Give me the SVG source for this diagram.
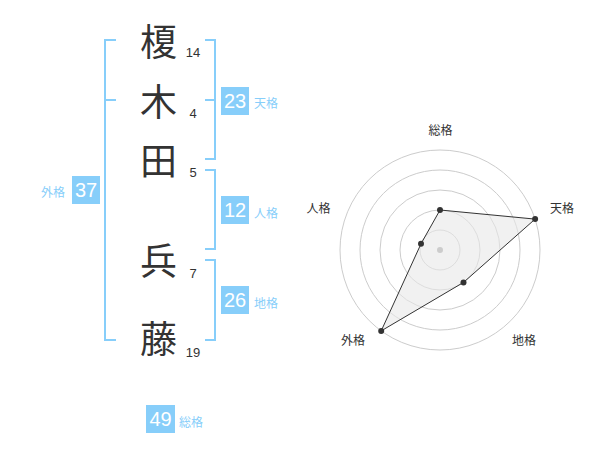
<svg xmlns="http://www.w3.org/2000/svg" width="600" height="470" viewBox="0 0 600 470">
<style>
.kanji{font-family:"Noto Sans CJK JP","Noto Sans CJK SC",sans-serif;font-size:37px;fill:#333;text-anchor:middle}
.stroke{font-family:"Liberation Sans",Arial,sans-serif;font-size:13px;fill:#333;text-anchor:middle}
.br{fill:none;stroke:#87cefa;stroke-width:2}
.box{fill:#87cefa}
.bnum{font-family:"Liberation Sans",Arial,sans-serif;font-size:20px;fill:#fff;text-anchor:middle}
.blab{font-family:"Noto Sans CJK JP","Noto Sans CJK SC",sans-serif;font-size:12px;fill:#87cefa}
.ring{fill:none;stroke:#cccccc;stroke-width:1}
.rlab{font-family:"Noto Sans CJK JP","Noto Sans CJK SC",sans-serif;font-size:12px;fill:#333;text-anchor:middle}
.dot{fill:#333}
</style>
<rect width="600" height="470" fill="#fff"/>
<g id="chars">
<text class="kanji" x="158.5" y="56">榎</text>
<text class="kanji" x="158.5" y="116">木</text>
<text class="kanji" x="158.5" y="175">田</text>
<text class="kanji" x="158.5" y="275">兵</text>
<text class="kanji" x="158.5" y="353">藤</text>
<text class="stroke" x="193" y="57">14</text>
<text class="stroke" x="193" y="118">4</text>
<text class="stroke" x="193" y="177">5</text>
<text class="stroke" x="193" y="278">7</text>
<text class="stroke" x="193" y="357">19</text>
</g>
<g id="connectors">
<path class="br" d="M116,40 H105 V340 H116 M105,100 H116"/>
<path class="br" d="M205,40 H215 V159 H205 M205,100 H215"/>
<path class="br" d="M205,170 H215 V249 H205"/>
<path class="br" d="M205,260 H215 V340 H205"/>
</g>
<g id="tenkaku">
<rect class="box" x="221" y="87" width="28" height="28"/>
<text class="bnum" x="235" y="108">23</text>
<text class="blab" x="254" y="108">天格</text>
</g>
<g id="jinkaku">
<rect class="box" x="221" y="196" width="28" height="28"/>
<text class="bnum" x="235" y="217">12</text>
<text class="blab" x="254" y="218">人格</text>
</g>
<g id="chikaku">
<rect class="box" x="221" y="286" width="28" height="28"/>
<text class="bnum" x="235" y="307">26</text>
<text class="blab" x="254" y="308">地格</text>
</g>
<g id="gaikaku">
<rect class="box" x="72" y="176" width="28" height="28"/>
<text class="bnum" x="86" y="197">37</text>
<text class="blab" x="41" y="197">外格</text>
</g>
<g id="soukaku">
<rect class="box" x="146" y="405" width="29" height="28"/>
<text class="bnum" x="160.5" y="426">49</text>
<text class="blab" x="179" y="427">総格</text>
</g>
<g id="radar">
<circle class="ring" cx="440" cy="250" r="20"/>
<circle class="ring" cx="440" cy="250" r="40"/>
<circle class="ring" cx="440" cy="250" r="60"/>
<circle class="ring" cx="440" cy="250" r="80"/>
<circle class="ring" cx="440" cy="250" r="100"/>
<polygon points="440,210 535.1,219.1 463.5,282.4 381.2,330.9 421,243.8" fill="#e8e8e8" fill-opacity="0.6" stroke="#333" stroke-width="1"/>
<circle cx="440" cy="250" r="3" fill="#cccccc"/>
<circle class="dot" cx="440" cy="210" r="3"/>
<circle class="dot" cx="535.1" cy="219.1" r="3"/>
<circle class="dot" cx="463.5" cy="282.4" r="3"/>
<circle class="dot" cx="381.2" cy="330.9" r="3"/>
<circle class="dot" cx="421" cy="243.8" r="3"/>
<text class="rlab" x="440.5" y="135">総格</text>
<text class="rlab" x="562" y="212.5">天格</text>
<text class="rlab" x="524" y="345">地格</text>
<text class="rlab" x="353" y="345">外格</text>
<text class="rlab" x="318.5" y="212.5">人格</text>
</g>
</svg>
